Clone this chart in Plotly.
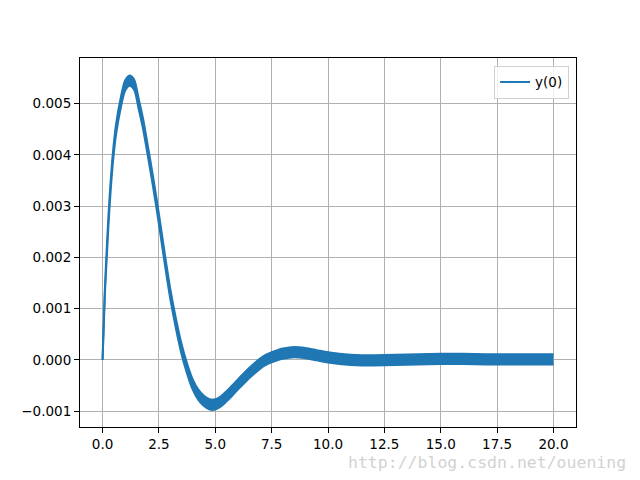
import plotly.graph_objects as go

# time samples
t = [0, 0.1, 0.2, 0.3, 0.45, 0.6, 0.8, 1.0, 1.2, 1.4, 1.6, 1.8, 2.0, 2.25, 2.5,
     2.75, 3.0, 3.25, 3.5, 3.75, 4.0, 4.25, 4.5, 4.75, 5.0, 5.25, 5.5, 5.75, 6.0,
     6.25, 6.5, 6.75, 7.0, 7.25, 7.5, 7.75, 8.0, 8.5, 9.0, 9.5, 10.0, 10.5, 11.0,
     11.5, 12.0, 13.0, 14.0, 15.0, 16.0, 17.0, 18.0, 19.0, 20.0]

# the fast ripple makes the line a band: its top and bottom edges
y_upper = [0.0, 0.00135, 0.0023, 0.0031, 0.0040, 0.0046, 0.0051, 0.00545, 0.00555,
           0.00547, 0.0051, 0.0047, 0.0042, 0.00355, 0.00285, 0.0021, 0.0014, 0.00082,
           0.00032, -0.00007, -0.00038, -0.00058, -0.0007, -0.00077, -0.00077, -0.00071,
           -0.00061, -0.0005, -0.00038, -0.00027, -0.00016, -0.00006, 0.00003, 0.0001,
           0.00015, 0.00019, 0.00022, 0.00025, 0.00023, 0.00019, 0.00015, 0.00012,
           0.0001, 0.00009, 0.00009, 0.0001, 0.00011, 0.00012, 0.00012, 0.00011,
           0.00011, 0.00011, 0.00011]
y_lower = [0.0, 0.00125, 0.0021, 0.0029, 0.0038, 0.0044, 0.0049, 0.00525, 0.00535,
           0.00527, 0.0049, 0.0045, 0.0040, 0.00335, 0.00265, 0.0019, 0.0012, 0.00062,
           0.00012, -0.00027, -0.00058, -0.00078, -0.0009, -0.00097, -0.00097, -0.00091,
           -0.00081, -0.0007, -0.00058, -0.00047, -0.00036, -0.00026, -0.00017, -0.0001,
           -0.00005, -0.00001, 0.00002, 0.00005, 0.00003, -0.00001, -0.00005, -0.00008,
           -0.0001, -0.00011, -0.00011, -0.0001, -0.00009, -0.00008, -0.00008, -0.00009,
           -0.00009, -0.00009, -0.00009]

x_ticks = [0, 2.5, 5, 7.5, 10, 12.5, 15, 17.5, 20]
x_labels = ["0.0", "2.5", "5.0", "7.5", "10.0", "12.5", "15.0", "17.5", "20.0"]
y_ticks = [-0.001, 0.0, 0.001, 0.002, 0.003, 0.004, 0.005]
y_labels = ["\u22120.001", "0.000", "0.001", "0.002", "0.003", "0.004", "0.005"]

blue = "#1f77b4"

fig = go.Figure()
fig.add_trace(go.Scatter(x=t, y=y_lower, mode="lines", name="y(0)",
                         line=dict(color=blue, width=2, shape="spline", smoothing=0.8)))
fig.add_trace(go.Scatter(x=t, y=y_upper, mode="lines", showlegend=False,
                         fill="tonexty", fillcolor=blue,
                         line=dict(color=blue, width=2, shape="spline", smoothing=0.8)))

axis_style = dict(showline=True, linecolor="black", linewidth=1.1, mirror=True,
                  showgrid=True, gridcolor="#b0b0b0", gridwidth=1.1, zeroline=False,
                  ticks="outside", ticklen=5, tickwidth=1.1, tickcolor="black",
                  tickfont=dict(family="DejaVu Sans", size=13.5, color="black"))

fig.update_xaxes(range=[-1, 21], tickvals=x_ticks, ticktext=x_labels, **axis_style)
fig.update_yaxes(range=[-0.00131, 0.00589], tickvals=y_ticks, ticktext=y_labels, **axis_style)

# page body adds an 8px offset, margins below are set against that
fig.add_annotation(text="http://blog.csdn.net/ouening", xref="paper", yref="paper",
                   x=1.105, y=-0.097, xanchor="right", yanchor="middle", showarrow=False,
                   font=dict(family="DejaVu Sans Mono", size=16.5, color="#d2d2d2"))

fig.update_layout(width=640, height=480, paper_bgcolor="white", plot_bgcolor="white",
                  margin=dict(l=72, r=72, t=50, b=61),
                  font=dict(family="DejaVu Sans", size=13.5, color="black"),
                  legend=dict(x=0.986, y=0.979, xanchor="right", yanchor="top",
                              bgcolor="rgba(255,255,255,0.8)", bordercolor="#d0d0d0",
                              borderwidth=1, itemwidth=30,
                              font=dict(family="DejaVu Sans", size=13.5)))

fig.write_html("out.html")
